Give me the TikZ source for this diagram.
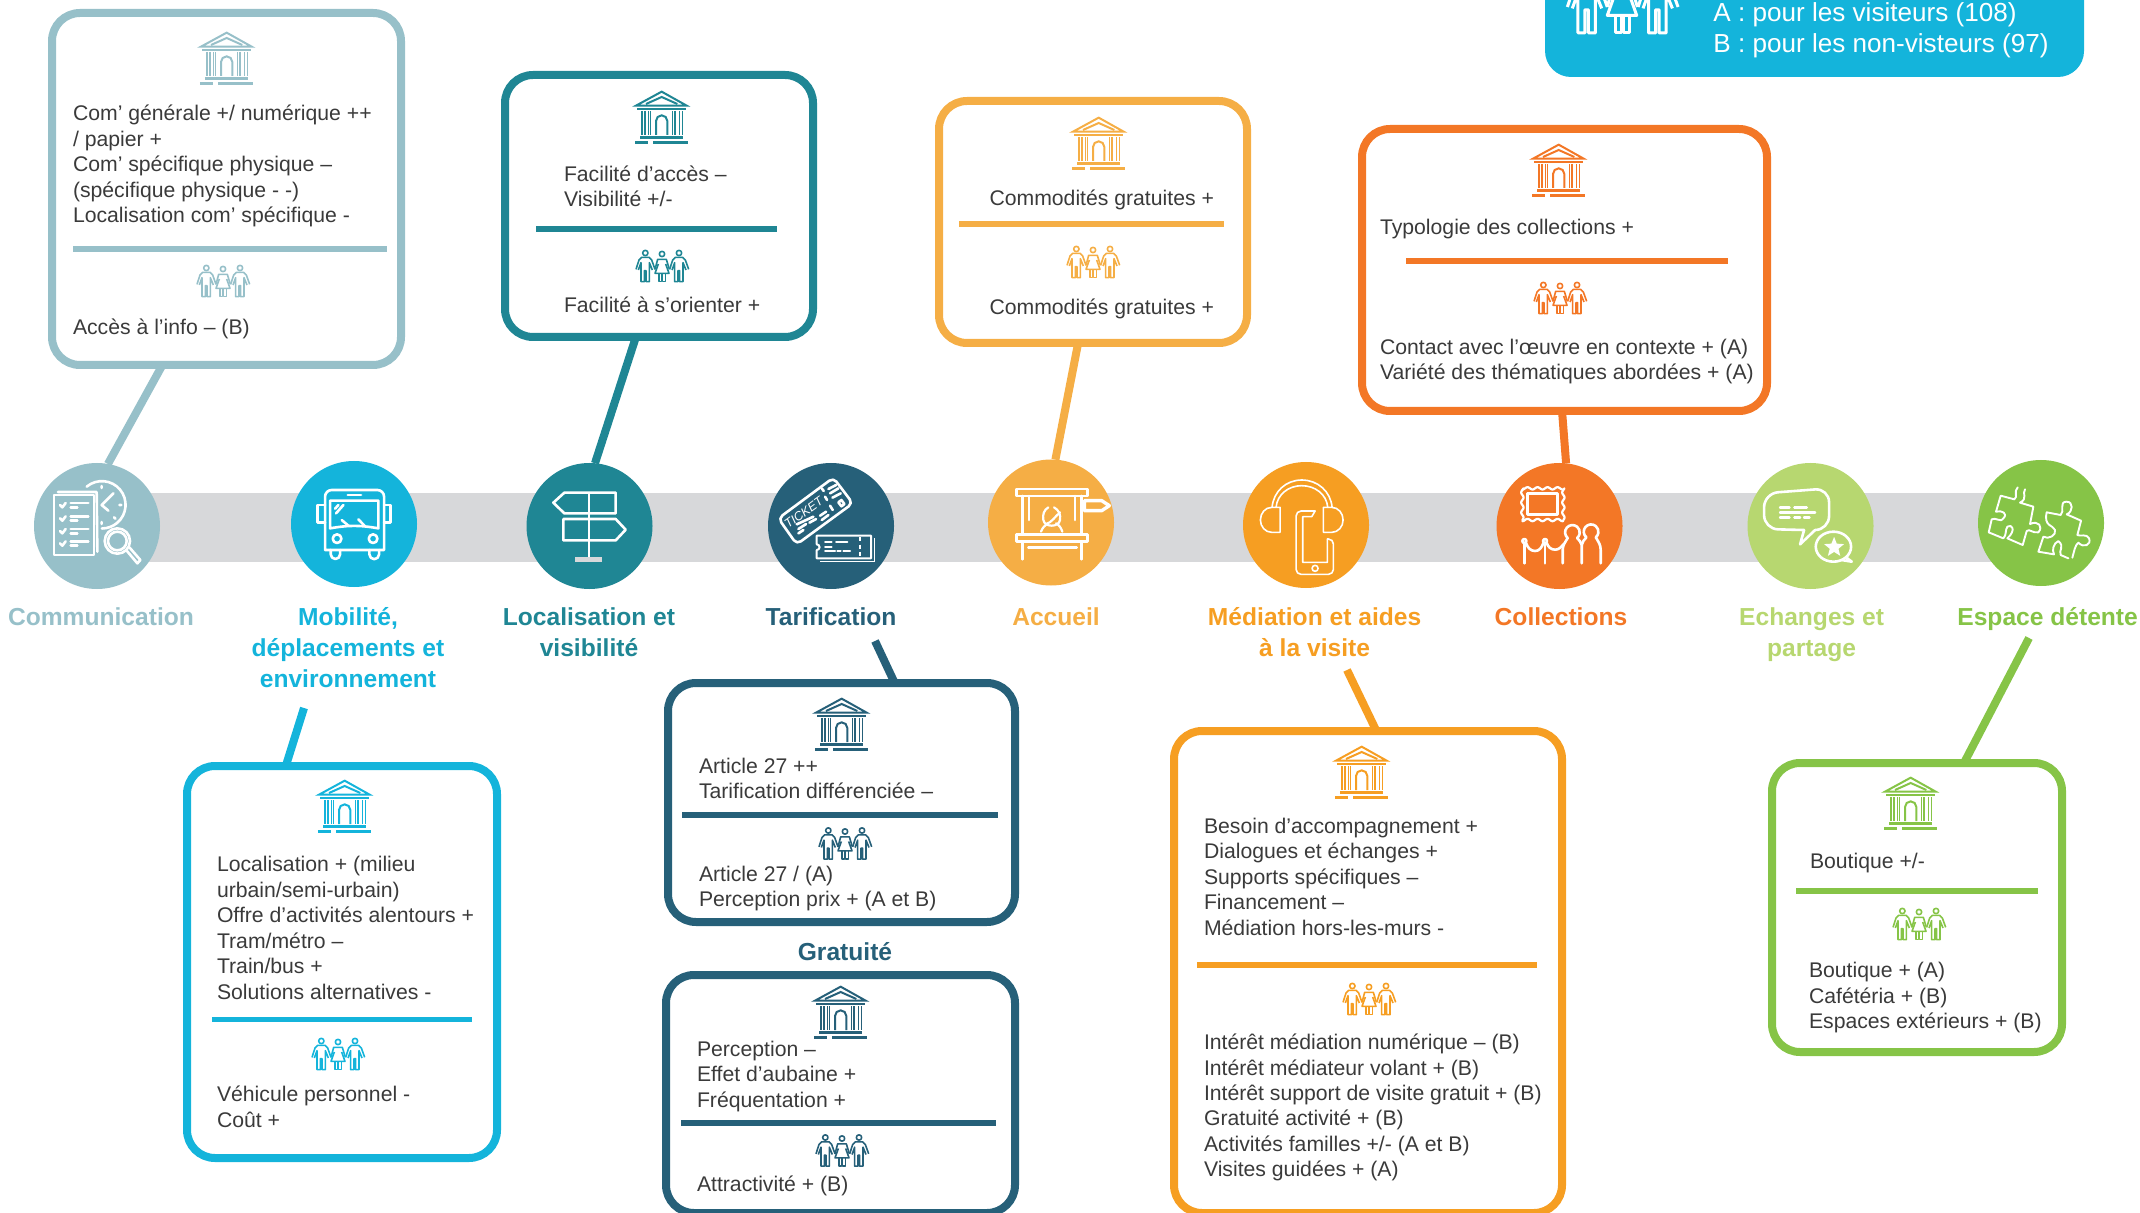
\documentclass[tikz,border=0pt]{standalone}
\usepackage{fontspec}
\setmainfont{Liberation Sans}
\usetikzlibrary{shapes.geometric}
\definecolor{cCom}{HTML}{97C0C9}
\definecolor{cMob}{HTML}{14B4DB}
\definecolor{cLoc}{HTML}{1F8694}
\definecolor{cTar}{HTML}{266079}
\definecolor{cAcc}{HTML}{F5AE45}
\definecolor{cMed}{HTML}{F69E22}
\definecolor{cCol}{HTML}{F37726}
\definecolor{cEch}{HTML}{B7D770}
\definecolor{cEsp}{HTML}{86C447}
\definecolor{cBand}{HTML}{D7D8DA}
\definecolor{cTxt}{HTML}{3A3A3A}
\newcommand{\flw}{0.8pt}
\tikzset{
 panel/.style={draw=#1,rectangle,rounded corners=14pt,line width=4pt,inner sep=0pt,outer sep=0pt},
 conn/.style={draw=#1,line width=4pt},
 sepline/.style={draw=#1,line width=2.6pt},
 disc/.style={circle,fill=#1,minimum size=63pt,inner sep=0pt,outer sep=0pt},
 body/.style={anchor=north west,inner sep=0pt,outer sep=0pt,yshift=8.93pt,align=left,text=cTxt,
   font=\fontsize{10.6}{12.75}\selectfont},
 head/.style={anchor=north,inner sep=0pt,outer sep=0pt,yshift=10.92pt,align=center,text=#1,
   font=\fontsize{12.3}{15.6}\selectfont\bfseries},
 icn/.style={draw=white,line width=1.3pt,line cap=round,line join=round},
 thin icn/.style={draw=white,line width=0.8pt,line cap=round,line join=round},
 bldg/.pic={
  \begin{scope}[x=0.1667pt,y=-0.1667pt,shift={(-126,-102)},line width=1pt,line join=miter]
   \draw (48,62)--(125,20)--(200,62)--cycle;
   \draw (78,57)--(125,36)--(172,57);
   \draw (52,72)--(197,72);
   \foreach \c in {66,75,85,92,158,165,178,187}{\draw[line width=0.8pt] (\c,78)--(\c,150);}
   \draw (108,150)--(108,108) arc (180:360:17) --(142,150);
   \draw[line width=1.4pt] (60,158)--(190,158);
   \draw[line width=1.4pt] (45,172)--(85,172) (100,172)--(205,172);
  \end{scope}},
 folks/.pic={
  \begin{scope}[x=0.1667pt,y=-0.1667pt,shift={(-111,-78)},line width=\flw,line join=round]
   \foreach \d in {0,101}{
    \begin{scope}[shift={(\d,0)}]
     \draw (61,39) circle[radius=8];
     \draw (33,88)--(42,60)--(50,52)--(72,52)--(80,60)--(90,88);
     \draw (40,90)--(48,68)--(48,125)--(58,125)--(58,92)--(63,92)--(63,125)--(73,125)--(73,68)--(82,90);
    \end{scope}}
   \draw (111,42) circle[radius=8];
   \draw (90,88)--(98,58)--(124,58)--(133,88);
   \draw (100,72)--(90,100)--(132,100)--(122,72);
   \draw (102,100)--(102,125)--(110,125)--(110,100) (113,100)--(113,125)--(121,125)--(121,100);
  \end{scope}}
}
\newcommand{\panelbox}[6]{\node[panel=#6,minimum width={(#4-#2)*0.5pt},minimum height={(#5-#3)*0.5pt}] (#1) at ({(#2+#4)/2},{(#3+#5)/2}) {};}
\begin{document}
\begin{tikzpicture}[x=0.5pt,y=-0.5pt]
\useasboundingbox (0,0) rectangle (2140,1213);
\clip (0,0) rectangle (2140,1213);
% band
\fill[cBand] (97,493) rectangle (2041,562);

% legend
\node[fill=cMob,rectangle,rounded corners=13pt,inner sep=0pt,minimum width=269.5pt,minimum height=60pt] (legend) at (1814.5,17) {};
\renewcommand{\flw}{1.5pt}
\pic[white,scale=2.1] at (1622,0) {folks};
\renewcommand{\flw}{0.8pt}
\node[anchor=north west,inner sep=0pt,yshift=9.5pt,align=left,text=white,font=\fontsize{13.05}{15.5}\selectfont] (legendtxt) at (1713,18.5)
 {\strut A : pour les visiteurs (108)\\B : pour les non-visteurs (97)};

% panels
\panelbox{bCom}{52}{13}{401}{365}{cCom}
\panelbox{bLoc}{505}{75}{813}{337}{cLoc}
\panelbox{bAcc}{939}{101}{1247}{343}{cAcc}
\panelbox{bCol}{1362}{129}{1767}{411}{cCol}
\panelbox{bMob}{187}{766}{497}{1158}{cMob}
\panelbox{bTar}{668}{683}{1015}{922}{cTar}
\panelbox{bGra}{666}{975}{1015}{1213}{cTar}
\panelbox{bMed}{1174}{731}{1562}{1213}{cMed}
\panelbox{bEsp}{1772}{763}{2062}{1052}{cEsp}

% discs
\node[disc=cCom] (dCom) at (97,526) {};
\node[disc=cMob] (dMob) at (354,524) {};
\node[disc=cLoc] (dLoc) at (589.5,526) {};
\node[disc=cTar] (dTar) at (831,526) {};
\node[disc=cAcc] (dAcc) at (1051,522.5) {};
\node[disc=cMed] (dMed) at (1306,525) {};
\node[disc=cCol] (dCol) at (1559.5,526) {};
\node[disc=cEch] (dEch) at (1810.5,526) {};
\node[disc=cEsp] (dEsp) at (2041,523) {};

% connectors
\coordinate (fMob) at (304,708);
\coordinate (fTar) at (875,641);
\coordinate (fMed) at (1347,670);
\coordinate (fEsp) at (2029,638);
\draw[conn=cCom] (bCom.-110.7) -- (dCom.80);
\draw[conn=cLoc] (bLoc.-100.5) -- (dLoc.85);
\draw[conn=cAcc] (bAcc.-97.2) -- (dAcc.86.3);
\draw[conn=cCol] (bCol.-91.4) -- (dCol.84);
\draw[conn=cMob] (fMob) -- (bMob.106.5);
\draw[conn=cTar] (fTar) -- (bTar.66.7);
\draw[conn=cMed] (fMed) -- (bMed.88.4);
\draw[conn=cEsp] (fEsp) -- (bEsp.72.6);

% separators
\coordinate (s1a) at (73,249); \coordinate (s1b) at (387,249); \draw[sepline=cCom] (s1a)--(s1b);
\coordinate (s2a) at (536,229); \coordinate (s2b) at (777,229); \draw[sepline=cLoc] (s2a)--(s2b);
\coordinate (s3a) at (959,224); \coordinate (s3b) at (1224,224); \draw[sepline=cAcc] (s3a)--(s3b);
\coordinate (s4a) at (1406,261); \coordinate (s4b) at (1728,261); \draw[sepline=cCol] (s4a)--(s4b);
\coordinate (s5a) at (212,1019.5); \coordinate (s5b) at (472,1019.5); \draw[sepline=cMob] (s5a)--(s5b);
\coordinate (s6a) at (682,815); \coordinate (s6b) at (998,815); \draw[sepline=cTar] (s6a)--(s6b);
\coordinate (s7a) at (681,1123); \coordinate (s7b) at (996,1123); \draw[sepline=cTar] (s7a)--(s7b);
\coordinate (s8a) at (1197,965); \coordinate (s8b) at (1537,965); \draw[sepline=cMed] (s8a)--(s8b);
\coordinate (s9a) at (1796,891); \coordinate (s9b) at (2038,891); \draw[sepline=cEsp] (s9a)--(s9b);

% panel icons
\pic[cCom] at (227,60) {bldg}; \pic[cCom] at (223,281) {folks};
\pic[cLoc] at (662,119) {bldg}; \pic[cLoc] at (662,266) {folks};
\pic[cAcc] at (1099,145) {bldg}; \pic[cAcc] at (1093,262) {folks};
\pic[cCol] at (1559,172) {bldg}; \pic[cCol] at (1560,298) {folks};
\pic[cMob] at (345,808) {bldg}; \pic[cMob] at (338,1054) {folks};
\pic[cTar] at (842,726) {bldg}; \pic[cTar] at (845,843.5) {folks};
\pic[cTar] at (841,1014) {bldg}; \pic[cTar] at (842,1150.5) {folks};
\pic[cMed] at (1362,774) {bldg}; \pic[cMed] at (1369,999) {folks};
\pic[cEsp] at (1911,805) {bldg}; \pic[cEsp] at (1919,924) {folks};

% body text
\node[body] (t1a) at (73,121) {\strut Com’ générale +/ numérique ++\\/ papier +\\Com’ spécifique physique –\\(spécifique physique - -)\\Localisation com’ spécifique -};
\node[body] (t1b) at (73,335) {\strut Accès à l’info – (B)};
\node[body] (t2a) at (564,181.5) {\strut Facilité d’accès –\\Visibilité +/-};
\node[body] (t2b) at (564,312.5) {\strut Facilité à s’orienter +};
\node[body] (t3a) at (989.5,205.6) {\strut Commodités gratuites +};
\node[body] (t3b) at (989.5,315) {\strut Commodités gratuites +};
\node[body] (t4a) at (1380,234.5) {\strut Typologie des collections +};
\node[body] (t4b) at (1380,354.5) {\strut Contact avec l’œuvre en contexte + (A)\\Variété des thématiques abordées + (A)};
\node[body] (t5a) at (217,871.6) {\strut Localisation + (milieu\\urbain/semi-urbain)\\Offre d’activités alentours +\\Tram/métro –\\Train/bus +\\Solutions alternatives -};
\node[body] (t5b) at (217,1102) {\strut Véhicule personnel -\\Coût +};
\node[body] (t6a) at (699,773.5) {\strut Article 27 ++\\Tarification différenciée –};
\node[body] (t6b) at (699,881.5) {\strut Article 27 / (A)\\Perception prix + (A et B)};
\node[body] (t7a) at (697,1056.5) {\strut Perception –\\Effet d’aubaine +\\Fréquentation +};
\node[body] (t7b) at (697,1191) {\strut Attractivité + (B)};
\node[body] (t8a) at (1204,833.5) {\strut Besoin d’accompagnement +\\Dialogues et échanges +\\Supports spécifiques –\\Financement –\\Médiation hors-les-murs -};
\node[body] (t8b) at (1204,1049.5) {\strut Intérêt médiation numérique – (B)\\Intérêt médiateur volant + (B)\\Intérêt support de visite gratuit + (B)\\Gratuité activité + (B)\\Activités familles +/- (A et B)\\Visites guidées + (A)};
\node[body] (t9a) at (1810,869) {\strut Boutique +/-};
\node[body] (t9b) at (1809,978) {\strut Boutique + (A)\\Cafétéria + (B)\\Espaces extérieurs + (B)};

% headings
\node[head=cCom] (hCom) at (101,625) {\strut Communication};
\node[head=cMob] (hMob) at (348,625) {\strut Mobilité,\\déplacements et\\environnement};
\node[head=cLoc] (hLoc) at (589,625) {\strut Localisation et\\visibilité};
\node[head=cTar] (hTar) at (831,625) {\strut Tarification};
\node[head=cAcc] (hAcc) at (1056,625) {\strut Accueil};
\node[head=cMed] (hMed) at (1314.6,625) {\strut Médiation et aides\\à la visite};
\node[head=cCol] (hCol) at (1561,625) {\strut Collections};
\node[head=cEch] (hEch) at (1811.6,625) {\strut Echanges et\\partage};
\node[head=cEsp] (hEsp) at (2047.6,625) {\strut Espace détente};
\node[head=cTar] (hGra) at (845,960) {\strut Gratuité};

% ---- disc icons, in zoom units (1/3 px) ----
\begin{scope}[shift={(30,460)},x=0.1667pt,y=-0.1667pt]
 % communication
 \draw[icn] (72,105) rectangle (192,285);
 \draw[icn] (84,96)--(200,96)--(202,275);
 \foreach \q in {135,175,213,250}{
  \draw[icn] (90,\q)--(97,\q+7)--(107,\q-6);
  \draw[icn] (122,\q-6)--(175,\q-6) (122,\q+7)--(142,\q+7);}
 \draw[icn] (170,80) arc (-130:90:71);
 \draw[icn] (250,100)--(215,135)--(235,152);
 \draw[icn] (215,78)--(215,84) (268,135)--(274,135) (252,172)--(256,176) (215,186)--(215,192);
 \draw[icn] (262,243) circle[radius=38];
 \draw[icn] (262,243) circle[radius=28];
 \draw[icn] (290,272)--(322,310)--(331,300)--(299,263);
 % bus
 \draw[icn] (885,270)--(885,110) to[out=90,in=180] (905,90)--(1042,90) to[out=0,in=90] (1062,110)--(1062,270)--cycle;
 \draw[icn] (885,135)--(862,135)--(862,188)--(885,188);
 \draw[icn] (1062,135)--(1082,135)--(1082,188)--(1062,188);
 \draw[icn] (953,105)--(993,105);
 \draw[icn] (900,122)--(1045,122)--(1045,205) to[out=170,in=10] (900,205)--cycle;
 \draw[icn] (935,180)--(955,197) (985,178)--(1003,197) (918,160)--(940,135) (915,146)--(925,135);
 \draw[icn] (921,236) circle[radius=13];
 \draw[icn] (1029,236) circle[radius=13];
 \draw[icn] (902,270)--(902,283) arc (180:0:14) --(930,270);
 \draw[icn] (1018,270)--(1018,283) arc (180:0:14.5) --(1047,270);
\end{scope}
\begin{scope}[shift={(520,455)},x=0.1667pt,y=-0.1667pt]
 % signpost
 \draw[icn] (207,115)--(207,313);
 \draw[icn] (133,113)--(287,113)--(287,175)--(133,175)--(100,143)--cycle;
 \draw[icn] (130,192)--(287,192)--(317,224)--(287,256)--(130,256)--cycle;
 \draw[line width=2.2pt,draw=cBand] (165,313)--(245,313);
 % tickets
 \draw[icn,rounded corners=2.5pt] (775,190)--(940,68)--(998,145)--(830,268)--cycle;
 \node[text=white,rotate=36,inner sep=0pt,font=\fontsize{6.2}{7}\selectfont\itshape] (tk) at (851,172) {TICKET};
 \draw[icn] (905,100)--(911,108) (915,125)--(921,135) (930,152)--(938,165);
 \draw[icn] (925,102)--(948,90) (930,115)--(955,100) (937,128)--(962,115);
 \draw[icn] (955,142)--(964,135)--(973,147)--(964,154)--cycle;
 \draw[icn] (830,208)--(880,185) (835,222)--(858,207) (868,203)--(888,192) (835,235)--(850,225) (900,182)--(918,170) (905,195)--(925,180);
 \draw[icn,line width=1pt] (890,242)--(1053,242)--(1053,310)--(890,310)--(890,285) arc (90:-90:8.5) --(890,242);
 \draw[line width=0.8pt,draw=white] (1063,250)--(1063,320)--(900,320);
 \draw[icn,dash pattern=on 2pt off 1.6pt,line cap=butt,line width=1pt] (1020,247)--(1020,305);
 \draw[icn,line width=1pt] (915,262)--(935,262) (948,262)--(982,262) (915,275)--(935,275) (915,288)--(945,288) (952,288)--(962,288) (970,288)--(990,288);
\end{scope}
\begin{scope}[shift={(980,455)},x=0.1667pt,y=-0.1667pt]
 % accueil
 \draw[icn] (110,102) rectangle (323,123);
 \draw[icn] (110,238) rectangle (323,260);
 \draw[icn] (127,123)--(127,238) (305,123)--(305,238) (147,123)--(147,195) (285,123)--(285,195);
 \draw[icn] (127,260)--(127,313) (305,260)--(305,313) (145,277)--(290,277);
 \draw[icn,line width=1.7pt] (313,137)--(365,137)--(388,152)--(365,167)--(313,167)--cycle;
 \draw[thin icn,line width=1.1pt] (205,157) to[out=210,in=100] (190,195) to[out=-80,in=180] (215,212) to[out=0,in=-100] (240,195) to[out=80,in=-30] (222,157);
 \draw[thin icn,line width=1.1pt] (197,208) to[out=20,in=220] (240,172);
 \draw[thin icn,line width=1.1pt] (183,230) to[out=70,in=210] (205,205) (247,230) to[out=110,in=-30] (228,205);
 % headphones + phone
 \draw[thin icn] (876,157) to[out=85,in=180] (965,75) to[out=0,in=95] (1056,157);
 \draw[thin icn] (888,157) to[out=85,in=180] (965,92) to[out=0,in=95] (1043,157);
 \draw[thin icn] (900,157)--(875,157) to[out=180,in=90] (841,195) to[out=-90,in=180] (875,232)--(900,232)--cycle;
 \draw[thin icn] (1030,157)--(1055,157) to[out=0,in=90] (1089,195) to[out=-90,in=0] (1055,232)--(1030,232)--cycle;
 \draw[thin icn,rounded corners=2.5pt] (1005,168)--(948,168)--(948,358)--(1060,358)--(1060,252)--(1042,252);
 \draw[thin icn] (1042,252)--(1042,322)--(968,322)--(968,185)--(995,185)--(1005,168);
 \draw[thin icn] (1005,340) circle[radius=9];
\end{scope}
\begin{scope}[shift={(1490,455)},x=0.1667pt,y=-0.1667pt]
 % collections
 \draw[icn,line width=1.1pt] plot[domain=97:220,samples=50] (\x,{100+3.5*sin(12*\x)});
 \draw[icn,line width=1.1pt] plot[domain=97:220,samples=50] (\x,{195+3.5*sin(12*\x)});
 \draw[icn,line width=1.1pt] plot[domain=100:195,samples=50] ({97+3.5*sin(12*\x)},\x);
 \draw[icn,line width=1.1pt] plot[domain=100:195,samples=50] ({220+3.5*sin(12*\x)},\x);
 \draw[icn] (112,115) rectangle (202,178);
 \draw[icn] (103,258) circle[radius=6];
 \draw[icn] (165,258) circle[radius=6];
 \draw[icn] (103,264)--(103,325) (165,264)--(165,325);
 \draw[icn] (108,264) to[out=-70,in=180] (135,288) to[out=0,in=-110] (160,264);
 \draw[icn] (170,264) to[out=-70,in=180] (195,284) to[out=0,in=-130] (220,268);
 \draw[icn] (218,325)--(218,285) to[out=90,in=-120] (233,249) arc (130:410:22) to[out=-60,in=90] (275,270)--(275,325);
 \draw[icn] (275,270) to[out=90,in=-120] (289,247) arc (130:410:22) to[out=-60,in=90] (332,285)--(332,325);
 % speech
 \draw[icn,rounded corners=7pt] (942,225)--(822,222)--(822,115)--(1017,100)--(1017,225)--(975,225);
 \draw[icn] (975,225)--(930,268)--(942,225);
 \draw[icn] (870,158)--(898,158) (913,158)--(950,158) (870,173)--(975,173) (870,188)--(898,188) (913,188)--(930,188) (942,188)--(958,188);
 \draw[icn] (1030,275) ellipse[x radius=53,y radius=45];
 \draw[icn] (1068,307)--(1085,320)--(1055,315);
 \node[star,star points=5,star point ratio=2.3,fill=white,inner sep=0pt,minimum size=10.5pt] (st) at (1032,277) {};
\end{scope}
\begin{scope}[shift={(1970,455)},x=0.1667pt,y=-0.1667pt]
 % puzzle
 \draw[thin icn,line width=0.95pt] (143,97) .. controls (130,110) and (145,125) .. (133,133) -- (92,122) -- (78,170) .. controls (95,165) and (115,175) .. (100,190) .. controls (95,205) and (75,185) .. (65,193) -- (56,232) -- (100,250) .. controls (110,240) and (105,225) .. (112,215) .. controls (125,205) and (140,225) .. (112,250) -- (158,270) -- (170,228) .. controls (180,220) and (185,235) .. (205,232) .. controls (220,215) and (205,195) .. (180,207) -- (190,155) -- (150,143) .. controls (175,130) and (155,115) .. (165,103);
 \draw[thin icn,line width=0.95pt] (230,172) -- (272,180) .. controls (285,170) and (265,140) .. (290,140) .. controls (310,140) and (310,170) .. (290,178) -- (333,197) -- (322,240) .. controls (330,245) and (350,235) .. (357,250) .. controls (365,270) and (340,280) .. (325,263) .. controls (315,270) and (312,290) .. (307,308);
 \draw[thin icn,line width=0.95pt] (295,310) -- (272,300) .. controls (265,285) and (285,275) .. (265,258) .. controls (250,265) and (245,285) .. (252,298) -- (205,290) -- (220,245) .. controls (235,255) and (260,240) .. (255,225) .. controls (250,210) and (220,215) .. (230,172);
\end{scope}
\end{tikzpicture}
\end{document}
